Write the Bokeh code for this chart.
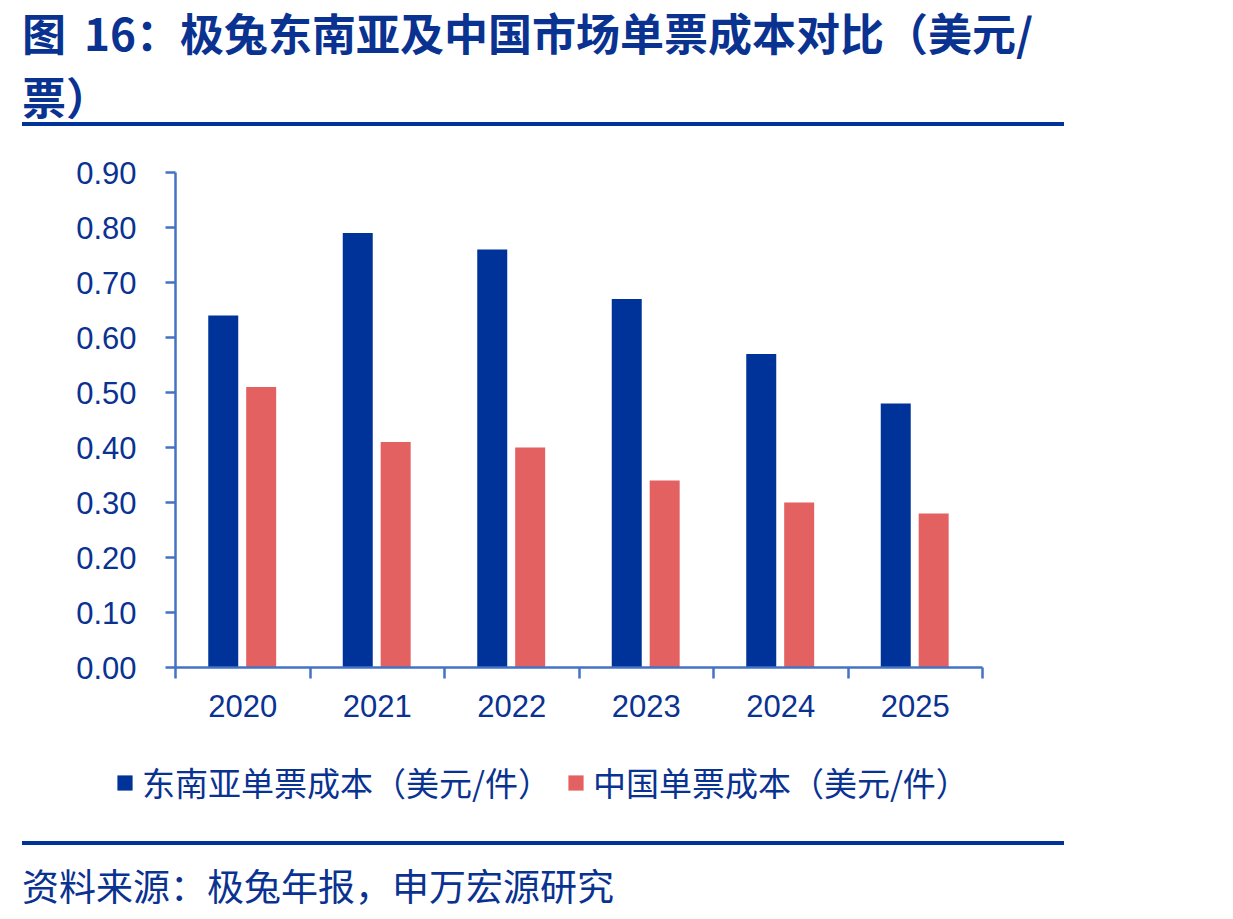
from bokeh.plotting import figure
from bokeh.models import (ColumnDataSource, Range1d, FixedTicker, NumeralTickFormatter,
                          Legend, LegendItem, Div)
from bokeh.layouts import column
from bokeh.transform import dodge
from bokeh.embed import file_html
from bokeh.resources import INLINE

# ---- data ----
years = ["2020", "2021", "2022", "2023", "2024", "2025"]
sea_cost = [0.64, 0.79, 0.76, 0.67, 0.57, 0.48]
cn_cost = [0.51, 0.41, 0.40, 0.34, 0.30, 0.28]
y_ticks = [0.0, 0.1, 0.2, 0.3, 0.4, 0.5, 0.6, 0.7, 0.8, 0.9]
sea_label = "东南亚单票成本（美元/件）"
cn_label = "中国单票成本（美元/件）"
title_line1 = "图 16：极兔东南亚及中国市场单票成本对比（美元/"
title_line2 = "票）"
source_text = "资料来源：极兔年报，申万宏源研究"

NAVY = "#003399"
RED = "#E46161"
AXIS = "#4472C4"
TEXT = "#0A3291"

centers = [i + 0.5 for i in range(len(years))]
src = ColumnDataSource(dict(x=centers, sea=sea_cost, cn=cn_cost))

title_div = Div(
    text=f"{title_line1}<br>{title_line2}",
    width=1100, height=122, margin=(0, 0, 0, 22),
    styles={"font-family": "'Noto Sans CJK SC'", "font-weight": "bold",
            "font-size": "44px", "line-height": "64px", "color": TEXT,
            "word-spacing": "8px",
            "overflow": "visible", "white-space": "nowrap"},
)
rule1 = Div(text="", width=1042, height=4, margin=(0, 0, 0, 22),
            styles={"background-color": NAVY})

p = figure(width=1233, height=614, output_backend="svg", toolbar_location=None,
           x_range=Range1d(0, len(years)), y_range=Range1d(0, 0.9),
           min_border_left=175, min_border_right=251, min_border_top=46,
           min_border_bottom=73, background_fill_color="white",
           border_fill_color="white", outline_line_color=None)
p.xgrid.visible = False
p.ygrid.visible = False

r1 = p.vbar(x=dodge("x", -0.145, range=p.x_range), top="sea", width=0.223,
            source=src, fill_color=NAVY, line_color=None)
r2 = p.vbar(x=dodge("x", 0.137, range=p.x_range), top="cn", width=0.223,
            source=src, fill_color=RED, line_color=None)

# x axis: labels at category centres, ticks at category boundaries
xa = p.xaxis[0]
xa.ticker = FixedTicker(ticks=centers, minor_ticks=list(range(len(years) + 1)))
xa.major_label_overrides = {c: y for c, y in zip(centers, years)}
xa.major_tick_out = 0
xa.major_tick_in = 0
xa.minor_tick_out = 11
xa.minor_tick_in = 0
xa.minor_tick_line_color = AXIS
xa.minor_tick_line_width = 2.5
xa.axis_line_color = AXIS
xa.axis_line_width = 2.5
xa.major_label_text_font = "Liberation Sans"
xa.major_label_text_font_size = "31px"
xa.major_label_text_color = TEXT
xa.major_label_standoff = 16

ya = p.yaxis[0]
ya.ticker = FixedTicker(ticks=y_ticks)
ya.formatter = NumeralTickFormatter(format="0.00")
ya.major_tick_out = 10
ya.major_tick_in = 0
ya.minor_tick_line_color = None
ya.major_tick_line_color = AXIS
ya.major_tick_line_width = 2.5
ya.axis_line_color = AXIS
ya.axis_line_width = 2.5
ya.major_label_text_font = "Liberation Sans"
ya.major_label_text_font_size = "31px"
ya.major_label_text_color = TEXT
ya.major_label_standoff = 29

# legend strip: its own small figure spanning the full width; it re-uses the
# series data, with ranges chosen so that only the legend is in view
pl = figure(width=1233, height=101, output_backend="svg", toolbar_location=None,
            x_range=Range1d(-20, -10), y_range=Range1d(0, 1), min_border=0,
            outline_line_color=None, background_fill_color="white",
            border_fill_color="white")
pl.axis.visible = False
pl.grid.visible = False
s1 = pl.vbar(x="x", top="sea", width=0.223, source=src, fill_color=NAVY, line_color=None)
s2 = pl.vbar(x="x", top="cn", width=0.223, source=src, fill_color=RED, line_color=None)

legend = Legend(items=[LegendItem(label=sea_label, renderers=[s1]),
                       LegendItem(label=cn_label, renderers=[s2])],
                orientation="horizontal", location=(115, 35),
                label_text_font="Noto Sans CJK SC", label_text_font_size="33px",
                label_text_color=TEXT, glyph_width=19, glyph_height=19,
                label_standoff=8, spacing=15, padding=0, margin=0,
                border_line_color=None, background_fill_alpha=0)
pl.add_layout(legend)

for fig in (p, pl):
    try:
        fig.frame_align = False
    except Exception:
        pass

rule2 = Div(text="", width=1042, height=4, margin=(0, 0, 0, 22),
            styles={"background-color": NAVY})
source_div = Div(
    text=source_text, width=1100, height=70, margin=(0, 0, 0, 22),
    styles={"font-family": "'Noto Sans CJK SC'", "font-size": "37px",
            "line-height": "52px", "padding-top": "14px", "color": TEXT,
            "white-space": "nowrap"},
)

layout = column(title_div, rule1, p, pl, rule2, source_div, spacing=0)
open("out.html", "w").write(file_html(layout, INLINE))
